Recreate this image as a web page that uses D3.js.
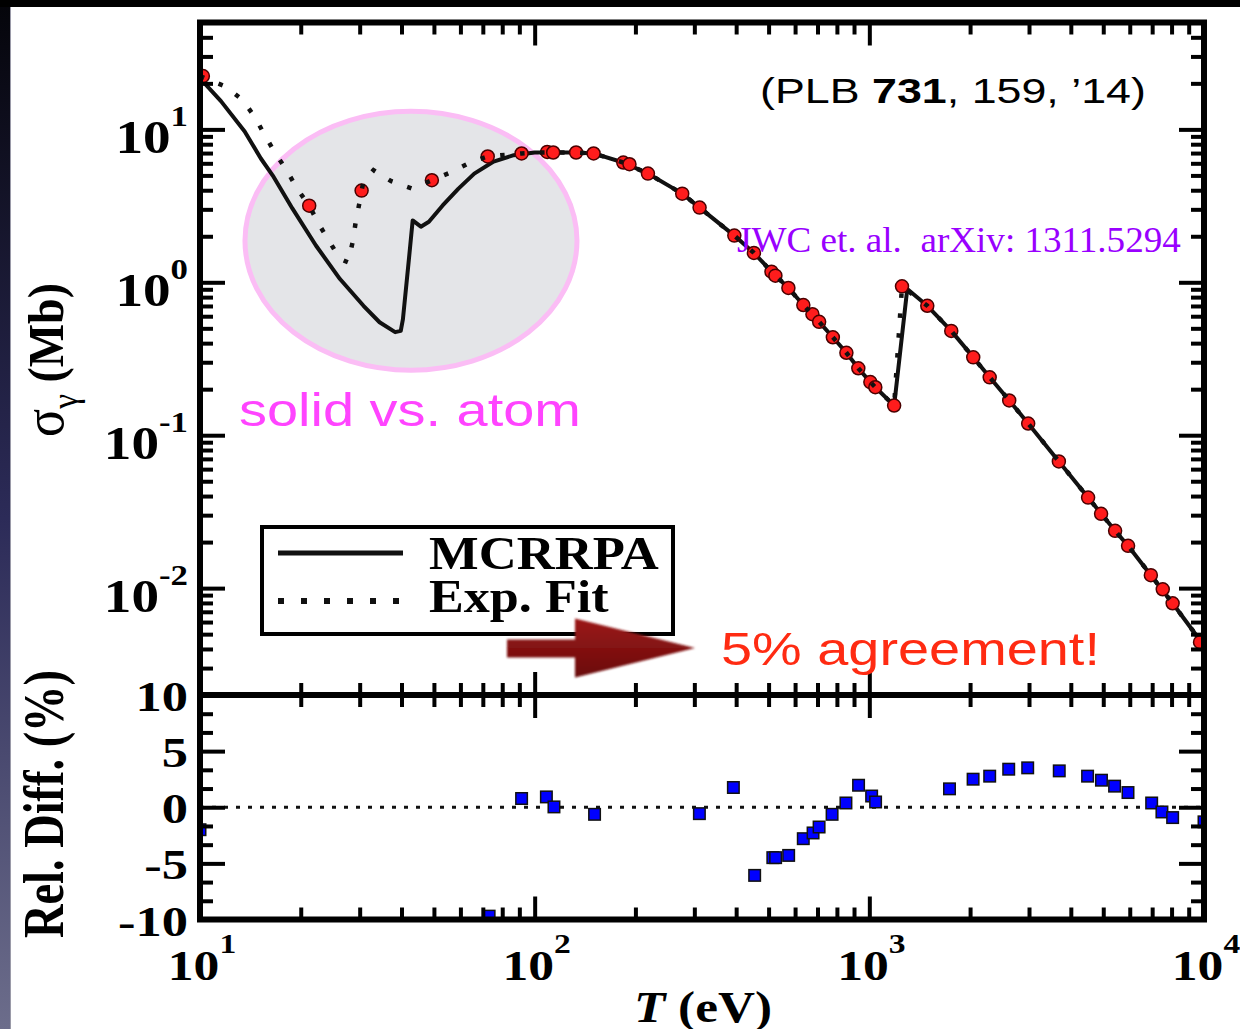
<!DOCTYPE html>
<html>
<head>
<meta charset="utf-8">
<title>Photoionization cross section - MCRRPA vs Exp. Fit</title>
<script src="https://d3js.org/d3.v7.min.js"></script>
<style>
  body { margin: 0; background: #000; }
  svg { display: block; }
  .serif { font-family: "Liberation Serif", "Times New Roman", serif; }
  .sans { font-family: "Liberation Sans", Arial, sans-serif; }
</style>
</head>
<body>
<svg id="chart" width="1240" height="1029"></svg>
<script>
// ---------- data: [T (eV), sigma (Mb)] ----------
// MCRRPA (solid) below 100 eV
var mcrrpaLow = [[10, 21.6], [11.55, 15.3], [13.6, 9.70], [15.2, 6.45], [16.5, 4.99], [18.9, 3.03],
  [22.2, 1.74], [26.2, 1.05], [30.8, 0.702], [34.4, 0.548], [38.3, 0.472], [39.8, 0.481],
  [40.4, 0.574], [42.1, 1.42], [43.2, 2.54], [45.7, 2.31], [48.3, 2.49], [53.1, 3.18],
  [59.2, 4.10], [66.0, 5.14], [75.4, 6.16], [86.6, 6.78]];
// Exp. Fit (dotted) below 100 eV
var fitLow = [[10, 22.3], [11.9, 19.1], [13.4, 15.6], [14.6, 12.0], [15.6, 9.18], [16.8, 6.96],
  [18.15, 5.41], [19.5, 4.10], [21.2, 3.17], [22.7, 2.38], [24.4, 1.84], [26.2, 1.42],
  [27.7, 1.35], [28.6, 1.84], [29.2, 2.49], [30.0, 3.37], [30.4, 3.98], [30.8, 4.56],
  [33.0, 5.41], [37.3, 4.58], [43.0, 4.10], [49.3, 4.65], [56.8, 5.30], [65.1, 6.16],
  [72.4, 6.65], [91.4, 6.96]];
// where both curves coincide
var tailLow = [[100, 7.05], [113.6, 7.06], [133, 7.06], [150, 6.96], [184, 6.07], [218, 5.14],
  [276, 3.80], [311, 3.08], [395, 2.02], [452, 1.557], [510, 1.174], [573, 0.918], [635, 0.71],
  [708, 0.551], [778, 0.437], [854, 0.346], [927, 0.274], [1007, 0.2225], [1042, 0.206],
  [1186, 0.156]];
var mcrrpaEdge = [[1298, 0.904]];
var fitEdge = [[1252, 0.941]];
var tailHigh = [[1490, 0.702], [1757, 0.481], [2044, 0.323], [2289, 0.239], [2618, 0.1688],
  [2983, 0.1192], [3684, 0.0674], [4505, 0.0391], [5425, 0.0237], [5931, 0.0189],
  [6937, 0.01215], [8059, 0.00796], [10000, 0.0042]];

// experimental points (red circles)
var expPoints = [[10.2, 22.3], [21.2, 3.17], [30.4, 3.98], [49.3, 4.65], [72.4, 6.65], [91.4, 6.96],
  [109, 7.12], [113.6, 7.06], [133, 7.06], [150, 6.96], [184, 6.07], [192, 5.92], [218, 5.14],
  [276, 3.80], [311, 3.08], [395, 2.02], [452, 1.557], [510, 1.174], [524, 1.105], [573, 0.918],
  [635, 0.71], [676, 0.619], [708, 0.551], [778, 0.437], [854, 0.346], [927, 0.274],
  [1007, 0.2225], [1042, 0.206], [1186, 0.1564], [1252, 0.941], [1490, 0.702], [1757, 0.481],
  [2044, 0.323], [2289, 0.239], [2618, 0.1688], [2983, 0.1192], [3684, 0.0674], [4505, 0.0391],
  [4926, 0.0306], [5425, 0.0237], [5931, 0.0189], [6937, 0.01215], [7529, 0.00983],
  [8059, 0.00796], [9730, 0.00443]];

// relative difference (%) (blue squares)
var relDiff = [[10, -2.0], [73.1, -9.7], [91.4, 0.78], [108.4, 0.92], [114.2, 0.03], [151, -0.63],
  [310.6, -0.57], [392.4, 1.76], [454.3, -6.07], [514.8, -4.49], [524.8, -4.49], [574, -4.29],
  [634.8, -2.8], [679, -2.29], [707.7, -1.76], [773.9, -0.63], [851.3, 0.38], [928.6, 1.96],
  [1016, 1.0], [1044, 0.47], [1736, 1.64], [2042, 2.5], [2289, 2.77], [2609, 3.39], [2973, 3.51],
  [3694, 3.24], [4489, 2.77], [4939, 2.41], [5405, 1.88], [5928, 1.31], [6976, 0.38],
  [7487, -0.42], [8059, -0.92], [10000, -1.3]];

var xMajor = [10, 100, 1000, 10000];
var xLabels = ["1", "2", "3", "4"];
var sigMajor = [0.01, 0.1, 1, 10];
var sigLabels = ["-2", "-1", "0", "1"];
var diffMajor = [-10, -5, 0, 5, 10];
var diffLabels = ["-10", "-5", "0", "5", "10"];

var mcrrpa = mcrrpaLow.concat(tailLow, mcrrpaEdge, tailHigh);
var expFit = fitLow.concat(tailLow, fitEdge, tailHigh);

// ---------- scales ----------
var L = 200, R = 1204, T0 = 22.5, MID = 695, B = 919.5;
var x = d3.scaleLog().domain([10, 1e4]).range([L, R]);
var y = d3.scaleLog().domain([0.002, 50]).range([MID, T0]);
var y2 = d3.scaleLinear().domain([-10, 10]).range([B, MID]);

var xMinor = [];
[10, 100, 1000].forEach(function(d) { for (var k = 2; k <= 9; k++) xMinor.push(d * k); });
var sigMinor = [];
[0.001, 0.01, 0.1, 1, 10].forEach(function(d) {
  for (var k = 2; k <= 9; k++) { var v = d * k; if (v >= 0.002 && v <= 50.01) sigMinor.push(v); }
});
var diffMinor = d3.range(-10, 10.001, 5 / 3).filter(function(v) {
  return Math.abs(v / 5 - Math.round(v / 5)) > 0.01;
});

var svg = d3.select("#chart");
var defs = svg.append("defs");

// ---------- background ----------
var bg = defs.append("linearGradient").attr("id", "strip").attr("x1", 0).attr("x2", 0).attr("y1", 0).attr("y2", 1);
bg.append("stop").attr("offset", "0%").attr("stop-color", "#05050b");
bg.append("stop").attr("offset", "50%").attr("stop-color", "#2c2b58");
bg.append("stop").attr("offset", "100%").attr("stop-color", "#6c6d8b");
svg.append("rect").attr("width", 1240).attr("height", 1029).attr("fill", "#000");
svg.append("rect").attr("x", 0).attr("y", 7).attr("width", 10).attr("height", 1022).attr("fill", "url(#strip)");
svg.append("rect").attr("x", 10).attr("y", 7).attr("width", 1230).attr("height", 1022).attr("fill", "#fff");
svg.append("line").attr("x1", 10.5).attr("x2", 10.5).attr("y1", 7).attr("y2", 1029).attr("stroke", "#9a9aa8");

defs.append("clipPath").attr("id", "clipTop").append("rect")
  .attr("x", L).attr("y", T0).attr("width", R - L).attr("height", MID - T0);
defs.append("clipPath").attr("id", "clipBot").append("rect")
  .attr("x", L).attr("y", MID).attr("width", R - L).attr("height", B - MID);

// ---------- grey ellipse (solid vs. atom) ----------
svg.append("ellipse")
  .attr("cx", x(42.7)).attr("cy", y(1.87)).attr("rx", 166).attr("ry", 129.5)
  .attr("fill", "#e4e5e8").attr("stroke", "#fbbdf5").attr("stroke-width", 5);

// ---------- top panel curves ----------
var line = d3.line().x(function(d) { return x(d[0]); }).y(function(d) { return y(d[1]); });
var topG = svg.append("g").attr("clip-path", "url(#clipTop)");

topG.append("path").datum(mcrrpa).attr("d", line)
  .attr("fill", "none").attr("stroke", "#111").attr("stroke-width", 4).attr("stroke-linejoin", "round");

topG.selectAll("circle").data(expPoints).enter().append("circle")
  .attr("cx", function(d) { return x(d[0]); })
  .attr("cy", function(d) { return y(d[1]); })
  .attr("r", 6.5).attr("fill", "#ff1c1c").attr("stroke", "#4a0000").attr("stroke-width", 1.5);

topG.append("path").datum(expFit).attr("d", line)
  .attr("fill", "none").attr("stroke", "#111").attr("stroke-width", 4.5)
  .attr("stroke-dasharray", "4.5,15.5");

// ---------- bottom panel ----------
var botG = svg.append("g").attr("clip-path", "url(#clipBot)");
botG.append("line").attr("x1", L).attr("x2", R).attr("y1", y2(0)).attr("y2", y2(0))
  .attr("stroke", "#111").attr("stroke-width", 3).attr("stroke-dasharray", "4,8");
botG.selectAll("rect").data(relDiff).enter().append("rect")
  .attr("x", function(d) { return x(d[0]) - 5.75; })
  .attr("y", function(d) { return y2(d[1]) - 5.75; })
  .attr("width", 11.5).attr("height", 11.5)
  .attr("fill", "#0000ff").attr("stroke", "#111").attr("stroke-width", 1.5);

// ---------- ticks ----------
function tickSet(axis, values, size, tx, ty) {
  var g = svg.append("g").attr("transform", "translate(" + tx + "," + ty + ")")
    .call(axis.tickValues(values).tickSize(size).tickSizeOuter(0).tickFormat(""));
  g.select(".domain").remove();
  g.selectAll("line").attr("stroke", "#000").attr("stroke-width", 4);
}
// x ticks (top panel: top edge + bottom edge; bottom panel: top edge + bottom edge)
tickSet(d3.axisTop(x), xMajor, -23, 0, T0);
tickSet(d3.axisTop(x), xMinor, -12, 0, T0);
tickSet(d3.axisBottom(x), xMajor, -23, 0, MID);
tickSet(d3.axisBottom(x), xMinor, -12, 0, MID);
tickSet(d3.axisTop(x), xMajor, -23, 0, MID);
tickSet(d3.axisTop(x), xMinor, -12, 0, MID);
tickSet(d3.axisBottom(x), xMajor, -23, 0, B);
tickSet(d3.axisBottom(x), xMinor, -12, 0, B);
// y ticks top panel
tickSet(d3.axisLeft(y), sigMajor, -25, L, 0);
tickSet(d3.axisLeft(y), sigMinor, -13, L, 0);
tickSet(d3.axisRight(y), sigMajor, -25, R, 0);
tickSet(d3.axisRight(y), sigMinor, -13, R, 0);
// y ticks bottom panel
tickSet(d3.axisLeft(y2), diffMajor, -25, L, 0);
tickSet(d3.axisLeft(y2), diffMinor, -13, L, 0);
tickSet(d3.axisRight(y2), diffMajor, -25, R, 0);
tickSet(d3.axisRight(y2), diffMinor, -13, R, 0);

// frame
svg.append("rect").attr("x", L).attr("y", T0).attr("width", R - L).attr("height", B - T0)
  .attr("fill", "none").attr("stroke", "#000").attr("stroke-width", 6);
svg.append("line").attr("x1", L).attr("x2", R).attr("y1", MID).attr("y2", MID)
  .attr("stroke", "#000").attr("stroke-width", 6);

// ---------- tick labels ----------
function powLabel(px, py, exp, anchor, size, supSize) {
  var t = svg.append("text").attr("class", "serif")
    .attr("transform", "translate(" + px + "," + py + ") scale(1.2,1)")
    .attr("text-anchor", anchor).attr("font-weight", "bold").attr("font-size", size).attr("fill", "#000");
  t.append("tspan").text("10");
  t.append("tspan").attr("font-size", supSize).attr("dy", -27).text(exp);
}
sigMajor.forEach(function(v, i) { powLabel(188, y(v) + 24, sigLabels[i], "end", 46, 29); });
xMajor.forEach(function(v, i) { powLabel(x(v) + 2, 980, xLabels[i], "middle", 43, 28); });
diffMajor.forEach(function(v, i) {
  svg.append("text").attr("class", "serif")
    .attr("transform", "translate(188," + (y2(v) + 16) + ") scale(1.25,1)")
    .attr("text-anchor", "end").attr("font-weight", "bold").attr("font-size", 42)
    .text(diffLabels[i]);
});

// ---------- helper: fit a text to a given width ----------
function fitText(px, py, width, build, pre) {
  var g = svg.append("g");
  var t = g.append("text");
  build(t);
  var w = t.node().getBBox().width;
  g.attr("transform", "translate(" + px + "," + py + ")" + (pre || "") + " scale(" + (width / w) + ",1)");
  return t;
}

// axis titles
fitText(634, 1022, 138, function(t) {
  t.attr("class", "serif").attr("font-weight", "bold").attr("font-size", 44);
  t.append("tspan").attr("font-style", "italic").text("T");
  t.append("tspan").text(" (eV)");
});
fitText(63, 437, 154, function(t) {
  t.attr("class", "serif").attr("font-size", 44);
  t.append("tspan").attr("font-size", 50).text("σ");
  t.append("tspan").attr("font-size", 32).attr("dy", 12).text("γ");
  t.append("tspan").attr("dy", -12).attr("font-weight", "bold").text(" (Mb)");
}, " scale(1.15,1) rotate(-90)");
fitText(63, 938, 268, function(t) {
  t.attr("class", "serif").attr("font-weight", "bold").attr("font-size", 47).text("Rel. Diff. (%)");
}, " scale(1.2,1) rotate(-90)");

// ---------- legend ----------
svg.append("rect").attr("x", 262).attr("y", 527).attr("width", 411).attr("height", 107)
  .attr("fill", "#fff").attr("stroke", "#000").attr("stroke-width", 4);
svg.append("line").attr("x1", 278).attr("x2", 403).attr("y1", 553).attr("y2", 553)
  .attr("stroke", "#111").attr("stroke-width", 5);
svg.append("line").attr("x1", 278).attr("x2", 403).attr("y1", 601).attr("y2", 601)
  .attr("stroke", "#111").attr("stroke-width", 6).attr("stroke-dasharray", "6,17");
fitText(429, 569, 230, function(t) {
  t.attr("class", "serif").attr("font-weight", "bold").attr("font-size", 47).text("MCRRPA");
});
fitText(429, 612, 180, function(t) {
  t.attr("class", "serif").attr("font-weight", "bold").attr("font-size", 47).text("Exp. Fit");
});

// ---------- arrow ----------
var ag = defs.append("linearGradient").attr("id", "arrowFill").attr("x1", 0).attr("x2", 0).attr("y1", 0).attr("y2", 1);
ag.append("stop").attr("offset", "0%").attr("stop-color", "#9c1a1a");
ag.append("stop").attr("offset", "100%").attr("stop-color", "#6a0909");
defs.append("filter").attr("id", "soft").append("feGaussianBlur").attr("stdDeviation", 0.9);
svg.append("polygon")
  .attr("points", "507,639.5 575,639.5 575,618.5 695,648 575,677.5 575,657.5 507,657.5")
  .attr("fill", "url(#arrowFill)").attr("filter", "url(#soft)");

// ---------- annotations ----------
fitText(760, 103, 386, function(t) {
  t.attr("class", "sans").attr("font-size", 35).attr("fill", "#000");
  t.append("tspan").text("(PLB ");
  t.append("tspan").attr("font-weight", "bold").text("731");
  t.append("tspan").text(", 159, \u201914)");
});
fitText(737, 252, 444, function(t) {
  t.attr("class", "serif").attr("font-size", 35).attr("fill", "#9900ff")
    .style("white-space", "pre").text("JWC et. al.  arXiv: 1311.5294");
});
fitText(239, 426, 342, function(t) {
  t.attr("class", "sans").attr("font-size", 47).attr("fill", "#ff44ff").text("solid vs. atom");
});
fitText(721, 665, 379, function(t) {
  t.attr("class", "sans").attr("font-size", 46).attr("fill", "#ff2b12").text("5% agreement!");
});
</script>
</body>
</html>
